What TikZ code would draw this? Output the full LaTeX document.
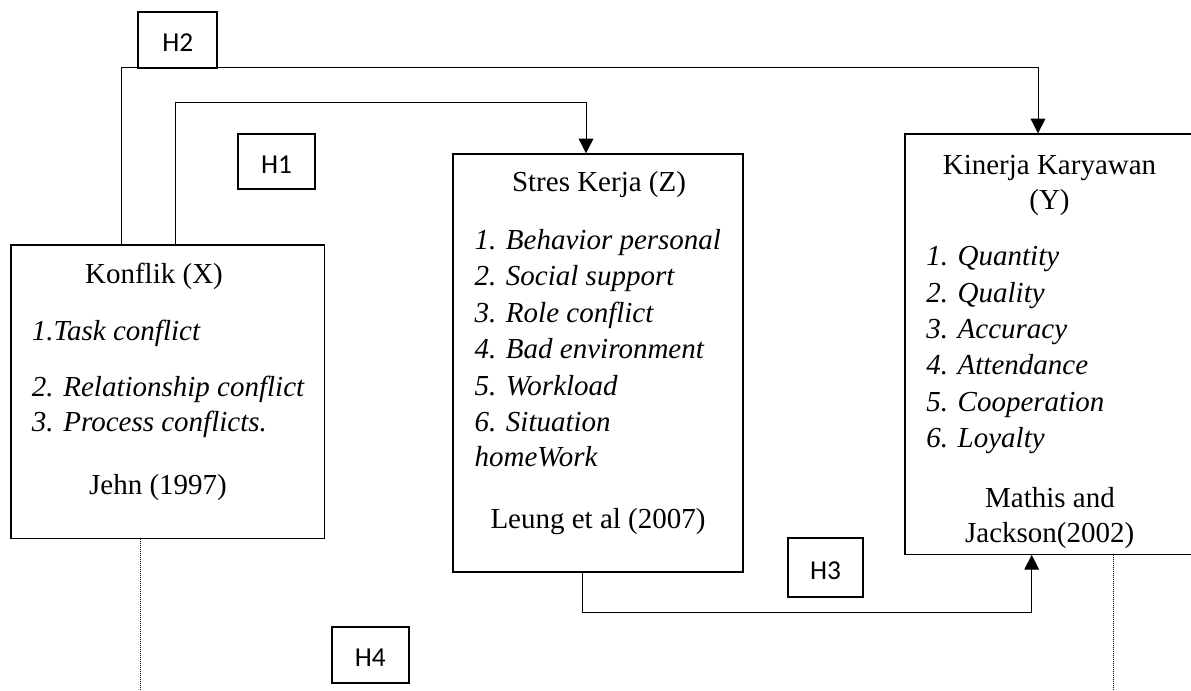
\documentclass[tikz,border=0pt]{standalone}
\usepackage{fontspec}
\setmainfont{Liberation Serif}
\newfontfamily\hfont{Carlito}
\usetikzlibrary{arrows.meta}
\begin{document}
\begin{tikzpicture}[x=0.75pt,y=-0.75pt,
  box/.style={draw,line width=1pt,rectangle,inner sep=0pt},
  hbox/.style={draw,line width=1.5pt,rectangle,inner sep=0pt,text height=17.5pt,text depth=0pt,font=\hfont\fontsize{20.5}{24}\selectfont},
  conn/.style={line width=0.75pt},
  arr/.style={conn,-{Triangle[length=11pt,width=11pt]}},
  dotline/.style={line width=0.75pt,dash pattern=on 0.75pt off 0.75pt},
  txt/.style={inner sep=0pt,font=\fontsize{21.75}{26}\selectfont},
  itm/.style={inner sep=0pt,anchor=base west,font=\fontsize{21.75}{26}\selectfont\itshape},
  ctr/.style={txt,anchor=base},
]
\useasboundingbox (0,0) rectangle (1191,691);

% main boxes
\node[box,minimum width=235pt,minimum height=220.3pt] (konf) at (167.65,391.85) {};
\node[box,minimum width=217.5pt,minimum height=313.5pt] (stres) at (598,363) {};
\node[box,minimum width=217.5pt,minimum height=315.2pt] (kin) at (1050,344.15) {};

% hypothesis boxes
\node[hbox,minimum width=58.9pt,minimum height=42.2pt] (h2) at (177.75,39.85) {H2};
\node[hbox,minimum width=57.75pt,minimum height=41.5pt] (h1) at (276.5,161.65) {H1};
\node[hbox,minimum width=56.25pt,minimum height=43.8pt] (h3) at (825.5,567.5) {H3};
\node[hbox,minimum width=58.1pt,minimum height=42.2pt] (h4) at (370.25,655.15) {H4};

% Konflik texts
\node[ctr] (kx) at (154,284) {Konflik (X)};
\node[itm] (k1) at (31.7,340.5) {1.Task conflict};
\node[itm] (k2) at (31.7,396) {2. Relationship conflict};
\node[itm] (k3) at (31.7,431) {3. Process conflicts.};
\node[ctr] (kj) at (158,494) {Jehn (1997)};

% Stres texts
\node[ctr] (sz) at (599,191.7) {Stres Kerja (Z)};
\node[itm] (s1) at (474.3,249.3) {1. Behavior personal};
\node[itm] (s2) at (474.3,285.8) {2. Social support};
\node[itm] (s3) at (474.3,322.3) {3. Role conflict};
\node[itm] (s4) at (474.3,358.8) {4. Bad environment};
\node[itm] (s5) at (474.3,395.3) {5. Workload};
\node[itm] (s6) at (474.3,431.8) {6. Situation};
\node[itm] (s6b) at (474.3,466.8) {homeWork};
\node[ctr] (sl) at (598,528.3) {Leung et al (2007)};

% Kinerja texts
\node[ctr] (ky) at (1049.5,175) {Kinerja Karyawan};
\node[ctr] (kyb) at (1049.5,210) {(Y)};
\node[itm] (y1) at (926,266) {1. Quantity};
\node[itm] (y2) at (926,302.3) {2. Quality};
\node[itm] (y3) at (926,338.6) {3. Accuracy};
\node[itm] (y4) at (926,374.9) {4. Attendance};
\node[itm] (y5) at (926,411.2) {5. Cooperation};
\node[itm] (y6) at (926,447.5) {6. Loyalty};
\node[ctr] (ym) at (1050,507.3) {Mathis and};
\node[ctr] (yj) at (1049.7,542.7) {Jackson(2002)};

% connectors
\draw[arr] (121,0 |- konf.north) -- (121,68) -- (1038,68) -- (1038,0 |- kin.north);
\draw[arr] (175,0 |- konf.north) -- (175,102.7) -- (586,102.7) -- (586,0 |- stres.north);
\draw[arr] (582.5,0 |- stres.south) -- (582.5,612) -- (1031.7,612) -- (1031.7,0 |- kin.south);

% dotted lines
\coordinate (dA) at (140.3,691);
\coordinate (dB) at (1113.5,691);
\draw[dotline] (140.3,0 |- konf.south) -- (dA);
\draw[dotline] (1113.5,0 |- kin.south) -- (dB);
\end{tikzpicture}
\end{document}
